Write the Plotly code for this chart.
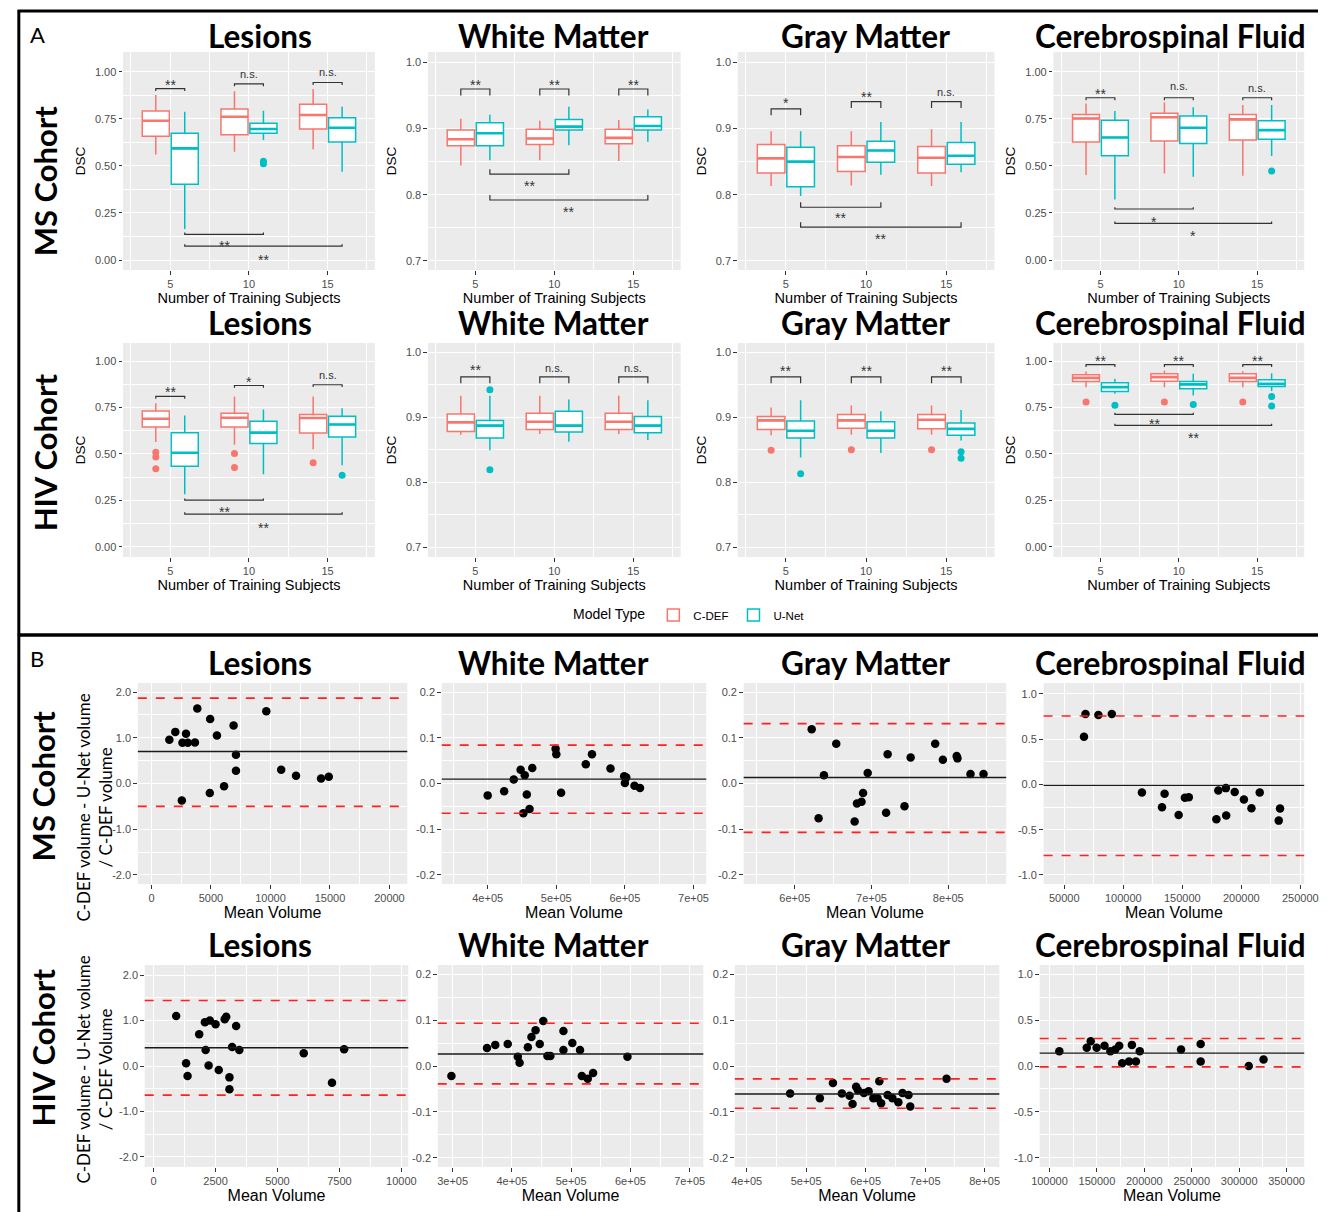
import plotly.graph_objects as go

W, H = 1332, 1212

# ---------------- labels ----------------
GROUPS = [5, 10, 15]
MODELS = ["C-DEF", "U-Net"]
STRUCTURES = ["Lesions", "White Matter", "Gray Matter", "Cerebrospinal Fluid"]
COHORTS = ["MS Cohort", "HIV Cohort"]
X_TITLE_A = "Number of Training Subjects"
Y_TITLE_A = "DSC"
X_TITLE_B = "Mean Volume"
Y_TITLE_B = ["C-DEF volume - U-Net volume<br>/ C-DEF volume",
             "C-DEF volume - U-Net volume<br>/ C-DEF Volume"]
LEGEND_TITLE = "Model Type"
PANEL_LETTERS = ["A", "B"]

DSC_TICKS_FULL = [0.0, 0.25, 0.5, 0.75, 1.0]
DSC_LABELS_FULL = ["0.00", "0.25", "0.50", "0.75", "1.00"]
DSC_TICKS_TISSUE = [0.7, 0.8, 0.9, 1.0]
DSC_LABELS_TISSUE = ["0.7", "0.8", "0.9", "1.0"]

# ---------------- box statistics: [lowerfence, q1, median, q3, upperfence] for 5, 10, 15 ----------------
MS_LES_CDEF = [[0.561, 0.658, 0.740, 0.791, 0.876], [0.575, 0.665, 0.761, 0.802, 0.897], [0.588, 0.696, 0.770, 0.827, 0.908]]
MS_LES_UNET = [[0.165, 0.402, 0.593, 0.673, 0.788], [0.637, 0.673, 0.696, 0.726, 0.793], [0.469, 0.627, 0.703, 0.756, 0.814]]
MS_WM_CDEF = [[0.844, 0.874, 0.884, 0.898, 0.915], [0.852, 0.876, 0.885, 0.899, 0.912], [0.851, 0.877, 0.886, 0.899, 0.913]]
MS_WM_UNET = [[0.852, 0.874, 0.893, 0.909, 0.921], [0.875, 0.898, 0.903, 0.914, 0.933], [0.880, 0.898, 0.904, 0.918, 0.929]]
MS_GM_CDEF = [[0.813, 0.833, 0.855, 0.876, 0.896], [0.814, 0.835, 0.857, 0.874, 0.896], [0.813, 0.833, 0.856, 0.873, 0.899]]
MS_GM_UNET = [[0.798, 0.812, 0.850, 0.872, 0.896], [0.830, 0.849, 0.867, 0.881, 0.910], [0.834, 0.846, 0.859, 0.879, 0.910]]
MS_CSF_CDEF = [[0.451, 0.627, 0.752, 0.773, 0.832], [0.460, 0.632, 0.758, 0.779, 0.837], [0.448, 0.637, 0.747, 0.773, 0.823]]
MS_CSF_UNET = [[0.322, 0.554, 0.651, 0.743, 0.791], [0.442, 0.619, 0.703, 0.765, 0.811], [0.552, 0.642, 0.690, 0.740, 0.823]]
HIV_LES_CDEF = [[0.565, 0.645, 0.690, 0.731, 0.774], [0.550, 0.645, 0.695, 0.720, 0.810], [0.525, 0.613, 0.694, 0.713, 0.810]]
HIV_LES_UNET = [[0.283, 0.434, 0.507, 0.615, 0.708], [0.391, 0.556, 0.615, 0.676, 0.740], [0.439, 0.591, 0.659, 0.703, 0.747]]
HIV_WM_CDEF = [[0.873, 0.878, 0.892, 0.905, 0.933], [0.874, 0.881, 0.893, 0.906, 0.933], [0.874, 0.881, 0.893, 0.906, 0.933]]
HIV_WM_UNET = [[0.849, 0.868, 0.887, 0.895, 0.933], [0.862, 0.877, 0.887, 0.909, 0.927], [0.865, 0.876, 0.887, 0.901, 0.926]]
HIV_GM_CDEF = [[0.872, 0.881, 0.895, 0.901, 0.915], [0.873, 0.883, 0.895, 0.904, 0.918], [0.873, 0.882, 0.896, 0.904, 0.918]]
HIV_GM_UNET = [[0.838, 0.868, 0.879, 0.894, 0.926], [0.845, 0.868, 0.879, 0.893, 0.909], [0.864, 0.872, 0.882, 0.891, 0.911]]
HIV_CSF_CDEF = [[0.860, 0.891, 0.910, 0.927, 0.944], [0.860, 0.892, 0.914, 0.932, 0.950], [0.860, 0.891, 0.910, 0.932, 0.946]]
HIV_CSF_UNET = [[0.824, 0.837, 0.860, 0.884, 0.905], [0.815, 0.851, 0.875, 0.891, 0.932], [0.839, 0.864, 0.878, 0.900, 0.935]]

# outliers per training size
MS_LES_CDEF_OUT = [[], [], []]
MS_LES_UNET_OUT = [[], [0.525, 0.512], []]
MS_WM_CDEF_OUT = [[], [], []]
MS_WM_UNET_OUT = [[], [], []]
MS_GM_CDEF_OUT = [[], [], []]
MS_GM_UNET_OUT = [[], [], []]
MS_CSF_CDEF_OUT = [[], [], []]
MS_CSF_UNET_OUT = [[], [], [0.473]]
HIV_LES_CDEF_OUT = [[0.509, 0.484, 0.421], [0.502, 0.427], [0.453]]
HIV_LES_UNET_OUT = [[], [], [0.385]]
HIV_WM_CDEF_OUT = [[], [], []]
HIV_WM_UNET_OUT = [[0.942, 0.819], [], []]
HIV_GM_CDEF_OUT = [[0.849], [0.850], [0.850]]
HIV_GM_UNET_OUT = [[0.813], [], [0.847, 0.837]]
HIV_CSF_CDEF_OUT = [[0.780], [0.780], [0.780]]
HIV_CSF_UNET_OUT = [[0.762], [0.767], [0.810, 0.758]]

# significance brackets: (model_a, size_a, model_b, size_b, bracket y, label, label y)
MS_LES_SIG = [("C-DEF", 5, "U-Net", 5, 0.910, "**", 0.943), ("C-DEF", 10, "U-Net", 10, 0.936, "n.s.", 0.990),
              ("C-DEF", 15, "U-Net", 15, 0.943, "n.s.", 1.000), ("U-Net", 5, "U-Net", 10, 0.136, "**", 0.092),
              ("U-Net", 5, "U-Net", 15, 0.074, "**", 0.018)]
MS_WM_SIG = [("C-DEF", 5, "U-Net", 5, 0.960, "**", 0.971), ("C-DEF", 10, "U-Net", 10, 0.960, "**", 0.971),
             ("C-DEF", 15, "U-Net", 15, 0.960, "**", 0.971), ("U-Net", 5, "U-Net", 10, 0.831, "**", 0.817),
             ("U-Net", 5, "U-Net", 15, 0.792, "**", 0.778)]
MS_GM_SIG = [("C-DEF", 5, "U-Net", 5, 0.930, "*", 0.943), ("C-DEF", 10, "U-Net", 10, 0.941, "**", 0.953),
             ("C-DEF", 15, "U-Net", 15, 0.941, "n.s.", 0.955), ("U-Net", 5, "U-Net", 10, 0.781, "**", 0.769),
             ("U-Net", 5, "U-Net", 15, 0.751, "**", 0.737)]
MS_CSF_SIG = [("C-DEF", 5, "U-Net", 5, 0.862, "**", 0.900), ("C-DEF", 10, "U-Net", 10, 0.862, "n.s.", 0.925),
              ("C-DEF", 15, "U-Net", 15, 0.862, "n.s.", 0.915), ("U-Net", 5, "U-Net", 10, 0.271, "*", 0.218),
              ("U-Net", 5, "U-Net", 15, 0.195, "*", 0.142)]
HIV_LES_SIG = [("C-DEF", 5, "U-Net", 5, 0.810, "**", 0.848), ("C-DEF", 10, "U-Net", 10, 0.869, "*", 0.905),
               ("C-DEF", 15, "U-Net", 15, 0.873, "n.s.", 0.923), ("U-Net", 5, "U-Net", 10, 0.251, "**", 0.203),
               ("U-Net", 5, "U-Net", 15, 0.176, "**", 0.116)]
HIV_WM_SIG = [("C-DEF", 5, "U-Net", 5, 0.962, "**", 0.977), ("C-DEF", 10, "U-Net", 10, 0.962, "n.s.", 0.975),
              ("C-DEF", 15, "U-Net", 15, 0.962, "n.s.", 0.975)]
HIV_GM_SIG = [("C-DEF", 5, "U-Net", 5, 0.962, "**", 0.975), ("C-DEF", 10, "U-Net", 10, 0.962, "**", 0.975),
              ("C-DEF", 15, "U-Net", 15, 0.962, "**", 0.975)]
HIV_CSF_SIG = [("C-DEF", 5, "U-Net", 5, 0.982, "**", 1.018), ("C-DEF", 10, "U-Net", 10, 0.982, "**", 1.018),
               ("C-DEF", 15, "U-Net", 15, 0.982, "**", 1.018), ("U-Net", 5, "U-Net", 10, 0.713, "**", 0.676),
               ("U-Net", 5, "U-Net", 15, 0.654, "**", 0.604)]

# ---------------- Bland-Altman data ----------------
MS_LES_X = [1500, 2000, 2600, 2900, 3050, 3650, 3850, 2550, 4930, 4900, 5500, 6100, 6900, 7100, 7100, 9650, 10900, 12150, 14250, 14900]
MS_LES_Y = [0.96, 1.13, 0.89, 1.09, 0.89, 0.90, 1.64, -0.37, 1.41, -0.21, 1.05, -0.06, 1.27, 0.63, 0.28, 1.58, 0.30, 0.17, 0.11, 0.15]
MS_LES_LINES = [0.70, 1.87, -0.50]  # mean, upper, lower limits of agreement

MS_WM_X = [400000, 424000, 438000, 448000, 454000, 457000, 452000, 461000, 465000, 499000, 500000, 507000, 543000, 552000, 579000, 599000, 600000, 602000, 614000, 622000]
MS_WM_Y = [-0.026, -0.017, 0.009, 0.030, 0.018, -0.024, -0.065, -0.056, 0.034, 0.076, 0.064, -0.020, 0.042, 0.064, 0.033, 0.016, 0.001, 0.013, -0.005, -0.010]
MS_WM_LINES = [0.0096, 0.084, -0.065]

MS_GM_X = [622000, 631000, 638000, 654000, 678000, 681000, 687000, 689000, 695000, 719000, 721000, 743000, 751000, 783000, 793000, 811000, 812000, 829000, 846000]
MS_GM_Y = [0.119, -0.076, 0.018, 0.087, -0.083, -0.044, -0.040, -0.021, 0.023, -0.064, 0.064, -0.050, 0.057, 0.087, 0.052, 0.060, 0.055, 0.021, 0.021]
MS_GM_LINES = [0.013, 0.131, -0.107]

MS_CSF_X = [66700, 68000, 78900, 90300, 115800, 132800, 135000, 146900, 152200, 155500, 178900, 180500, 186900, 187200, 194400, 202200, 208600, 215600, 231700, 232800]
MS_CSF_Y = [0.526, 0.778, 0.767, 0.778, -0.089, -0.252, -0.104, -0.337, -0.148, -0.141, -0.385, -0.067, -0.041, -0.344, -0.085, -0.167, -0.263, -0.089, -0.400, -0.267]
MS_CSF_LINES = [-0.011, 0.756, -0.785]

HIV_LES_X = [910, 1310, 1370, 1840, 2070, 2100, 2220, 2270, 2500, 2630, 2870, 2930, 3060, 3060, 3170, 3330, 3460, 6060, 7200, 7690]
HIV_LES_Y = [1.10, 0.06, -0.22, 0.70, 0.96, 0.35, 0.01, 1.00, 0.92, -0.09, 1.03, 1.08, -0.25, -0.51, 0.42, 0.88, 0.35, 0.28, -0.37, 0.37]
HIV_LES_LINES = [0.40, 1.44, -0.64]

HIV_WM_X = [298000, 358000, 372000, 393000, 410000, 413000, 427000, 433000, 440000, 447000, 453000, 460000, 465000, 487000, 487000, 502000, 515000, 518000, 528000, 537000, 595000]
HIV_WM_Y = [-0.022, 0.039, 0.046, 0.048, 0.020, 0.007, 0.041, 0.063, 0.078, 0.048, 0.098, 0.022, 0.022, 0.076, 0.035, 0.050, 0.035, -0.022, -0.028, -0.015, 0.020]
HIV_WM_LINES = [0.026, 0.093, -0.039]

HIV_GM_X = [473000, 523000, 545000, 560000, 573000, 578000, 584000, 587000, 597000, 605000, 613000, 620000, 623000, 626000, 637000, 645000, 655000, 662000, 672000, 675000, 736000]
HIV_GM_Y = [-0.060, -0.070, -0.037, -0.060, -0.065, -0.083, -0.045, -0.053, -0.059, -0.055, -0.070, -0.070, -0.033, -0.081, -0.063, -0.070, -0.079, -0.059, -0.063, -0.088, -0.028]
HIV_GM_LINES = [-0.061, -0.028, -0.092]

HIV_CSF_X = [110400, 139300, 143500, 149700, 158000, 164200, 169400, 173500, 176600, 183900, 186900, 191100, 195200, 238700, 259400, 259400, 310100, 325700]
HIV_CSF_Y = [0.16, 0.20, 0.27, 0.20, 0.22, 0.16, 0.18, 0.22, 0.03, 0.05, 0.23, 0.05, 0.16, 0.18, 0.24, 0.05, 0.00, 0.07]
HIV_CSF_LINES = [0.14, 0.30, -0.01]

# tick values / labels for the Bland-Altman panels
MS_LES_XT = [0, 5000, 10000, 15000, 20000]
MS_WM_XT = [400000, 500000, 600000, 700000]
MS_GM_XT = [600000, 700000, 800000]
MS_CSF_XT = [50000, 100000, 150000, 200000, 250000]
HIV_LES_XT = [0, 2500, 5000, 7500, 10000]
HIV_WM_XT = [300000, 400000, 500000, 600000, 700000]
HIV_GM_XT = [400000, 500000, 600000, 700000, 800000]
HIV_CSF_XT = [100000, 150000, 200000, 250000, 300000, 350000]
MS_LES_XL = ["0", "5000", "10000", "15000", "20000"]
MS_WM_XL = ["4e+05", "5e+05", "6e+05", "7e+05"]
MS_GM_XL = ["6e+05", "7e+05", "8e+05"]
MS_CSF_XL = ["50000", "100000", "150000", "200000", "250000"]
HIV_LES_XL = ["0", "2500", "5000", "7500", "10000"]
HIV_WM_XL = ["3e+05", "4e+05", "5e+05", "6e+05", "7e+05"]
HIV_GM_XL = ["4e+05", "5e+05", "6e+05", "7e+05", "8e+05"]
HIV_CSF_XL = ["100000", "150000", "200000", "250000", "300000", "350000"]
LES_YT = [-2.0, -1.0, 0.0, 1.0, 2.0]
LES_YL = ["-2.0", "-1.0", "0.0", "1.0", "2.0"]
TIS_YT = [-0.2, -0.1, 0.0, 0.1, 0.2]
TIS_YL = ["-0.2", "-0.1", "0.0", "0.1", "0.2"]
CSF_YT = [-1.0, -0.5, 0.0, 0.5, 1.0]
CSF_YL = ["-1.0", "-0.5", "0.0", "0.5", "1.0"]

# ---------------- style / layout ----------------
COLORS = {"C-DEF": "#F8766D", "U-Net": "#00BFC4"}
DODGE = {"C-DEF": -0.92, "U-Net": 0.92}
BOX_W = 1.72
PANEL_BG = "#EBEBEB"
SANS = "Liberation Sans, Arial, sans-serif"
HEAD = "Lato, Open Sans, sans-serif"
TICKFONT = dict(family=SANS, size=11, color="#4D4D4D")

BOX_ROWS_PX = [(52, 270), (343, 557)]
BOX_COLS_PX = [(117, 373), (427, 684), (742, 1003), (1063, 1318)]
YR_FULL = [[-0.053, 1.105], [-0.055, 1.098]]
YR_TISSUE = [[0.686, 1.016], [0.685, 1.014]]

SC_ROWS_PX = [(683, 884), (965, 1167)]
SC_COLS_PX = [[(132, 406), (441, 710), (748, 1015), (1053, 1318)],
              [(139, 407), (437, 707), (739, 1008), (1049, 1318)]]
SC_XRANGES = [[[-1150, 21500], [333000, 718600], [533300, 875600], [32500, 253300]],
              [[-360, 10280], [275000, 723000], [380000, 824800], [89650, 368600]]]

TITLE_X_PX = [256, 555, 872, 1182]
TITLE_Y_PX = [36, 323, 663, 945]

BOX_DATA = [
    [(MS_LES_CDEF, MS_LES_UNET, MS_LES_CDEF_OUT, MS_LES_UNET_OUT, MS_LES_SIG, "full"),
     (MS_WM_CDEF, MS_WM_UNET, MS_WM_CDEF_OUT, MS_WM_UNET_OUT, MS_WM_SIG, "tissue"),
     (MS_GM_CDEF, MS_GM_UNET, MS_GM_CDEF_OUT, MS_GM_UNET_OUT, MS_GM_SIG, "tissue"),
     (MS_CSF_CDEF, MS_CSF_UNET, MS_CSF_CDEF_OUT, MS_CSF_UNET_OUT, MS_CSF_SIG, "full")],
    [(HIV_LES_CDEF, HIV_LES_UNET, HIV_LES_CDEF_OUT, HIV_LES_UNET_OUT, HIV_LES_SIG, "full"),
     (HIV_WM_CDEF, HIV_WM_UNET, HIV_WM_CDEF_OUT, HIV_WM_UNET_OUT, HIV_WM_SIG, "tissue"),
     (HIV_GM_CDEF, HIV_GM_UNET, HIV_GM_CDEF_OUT, HIV_GM_UNET_OUT, HIV_GM_SIG, "tissue"),
     (HIV_CSF_CDEF, HIV_CSF_UNET, HIV_CSF_CDEF_OUT, HIV_CSF_UNET_OUT, HIV_CSF_SIG, "full")],
]

SC_DATA = [
    [(MS_LES_X, MS_LES_Y, MS_LES_LINES, MS_LES_XT, MS_LES_XL, LES_YT, LES_YL, [-2.2, 2.2], 0.5),
     (MS_WM_X, MS_WM_Y, MS_WM_LINES, MS_WM_XT, MS_WM_XL, TIS_YT, TIS_YL, [-0.22, 0.22], 0.05),
     (MS_GM_X, MS_GM_Y, MS_GM_LINES, MS_GM_XT, MS_GM_XL, TIS_YT, TIS_YL, [-0.22, 0.22], 0.05),
     (MS_CSF_X, MS_CSF_Y, MS_CSF_LINES, MS_CSF_XT, MS_CSF_XL, CSF_YT, CSF_YL, [-1.1, 1.12], 0.25)],
    [(HIV_LES_X, HIV_LES_Y, HIV_LES_LINES, HIV_LES_XT, HIV_LES_XL, LES_YT, LES_YL, [-2.22, 2.22], 0.5),
     (HIV_WM_X, HIV_WM_Y, HIV_WM_LINES, HIV_WM_XT, HIV_WM_XL, TIS_YT, TIS_YL, [-0.22, 0.22], 0.05),
     (HIV_GM_X, HIV_GM_Y, HIV_GM_LINES, HIV_GM_XT, HIV_GM_XL, TIS_YT, TIS_YL, [-0.22, 0.22], 0.05),
     (HIV_CSF_X, HIV_CSF_Y, HIV_CSF_LINES, HIV_CSF_XT, HIV_CSF_XL, CSF_YT, CSF_YL, [-1.1, 1.1], 0.25)],
]


def dom_x(a, b):
    return [a / W, b / W]


def dom_y(a, b):
    return [1 - b / H, 1 - a / H]


def names(k):
    if k == 1:
        return "xaxis", "yaxis", "x", "y"
    return f"xaxis{k}", f"yaxis{k}", f"x{k}", f"y{k}"


def base_axis():
    return dict(showgrid=True, gridcolor="white", gridwidth=1.1, zeroline=False, showline=False,
                ticks="outside", ticklen=3.5, tickwidth=1, tickcolor="#333333", tickfont=TICKFONT)


fig = go.Figure()
layout_axes = {}
annotations = []
shapes = []


def add_text(xp, yp, text, size, family=SANS, angle=0, color="#000000", xanchor="center"):
    annotations.append(dict(xref="paper", yref="paper", x=xp / W, y=1 - yp / H, text=text,
                            showarrow=False, textangle=angle, xanchor=xanchor, yanchor="middle",
                            font=dict(family=family, size=size, color=color)))


k = 0
# ---------------- Panel A: box plots ----------------
for r in range(2):
    for c in range(4):
        k += 1
        xa, ya, xr, yr = names(k)
        cdef, unet, cdef_out, unet_out, sig, kind = BOX_DATA[r][c]
        full = kind == "full"
        yrange = YR_FULL[r] if full else YR_TISSUE[r]
        xax = base_axis()
        xax.update(domain=dom_x(*BOX_COLS_PX[c]), anchor=yr, range=[2.0, 18.0],
                   tickmode="array", tickvals=GROUPS, ticktext=[str(g) for g in GROUPS],
                   minor=dict(showgrid=True, gridcolor="white", gridwidth=0.5, dtick=2.5, tick0=0),
                   title=dict(text=X_TITLE_A, font=dict(family=SANS, size=14.5, color="#000000"), standoff=3))
        yax = base_axis()
        yax.update(domain=dom_y(*BOX_ROWS_PX[r]), anchor=xr, range=yrange, tickmode="array",
                   tickvals=DSC_TICKS_FULL if full else DSC_TICKS_TISSUE,
                   ticktext=DSC_LABELS_FULL if full else DSC_LABELS_TISSUE,
                   minor=dict(showgrid=True, gridcolor="white", gridwidth=0.5,
                              dtick=0.125 if full else 0.05, tick0=0 if full else 0.7),
                   title=dict(text=Y_TITLE_A, font=dict(family=SANS, size=13.5, color="#000000"), standoff=6))
        layout_axes[xa] = xax
        layout_axes[ya] = yax

        for m, stats, outs in (("C-DEF", cdef, cdef_out), ("U-Net", unet, unet_out)):
            pos = [g + DODGE[m] for g in GROUPS]
            fig.add_trace(go.Box(
                x=pos, lowerfence=[s[0] for s in stats], q1=[s[1] for s in stats],
                median=[s[2] for s in stats], q3=[s[3] for s in stats], upperfence=[s[4] for s in stats],
                orientation="v", width=BOX_W, whiskerwidth=0, fillcolor="white",
                line=dict(color=COLORS[m], width=1.5), name=m, legendgroup=m,
                showlegend=(k == 1), boxpoints=False, xaxis=xr, yaxis=yr, hoverinfo="skip"))
            # thicker median segments (ggplot style)
            mx, my = [], []
            for p, s in zip(pos, stats):
                mx += [p - BOX_W / 2, p + BOX_W / 2, None]
                my += [s[2], s[2], None]
            fig.add_trace(go.Scatter(x=mx, y=my, mode="lines", line=dict(color=COLORS[m], width=2.6),
                                     showlegend=False, xaxis=xr, yaxis=yr, hoverinfo="skip"))
            ox, oy = [], []
            for p, vals in zip(pos, outs):
                ox += [p] * len(vals)
                oy += vals
            if ox:
                fig.add_trace(go.Scatter(x=ox, y=oy, mode="markers",
                                         marker=dict(color=COLORS[m], size=7),
                                         showlegend=False, xaxis=xr, yaxis=yr, hoverinfo="skip"))

        span = yrange[1] - yrange[0]
        for ma, sa, mb, sb, yl, lab, yt in sig:
            x0 = sa + DODGE[ma]
            x1 = sb + DODGE[mb]
            tip = (0.011 if full else 0.03) * span
            d = tip if sa == sb else -0.75 * tip
            shapes.append(dict(type="path", xref=xr, yref=yr,
                               path=f"M {x0},{yl - d} L {x0},{yl} L {x1},{yl} L {x1},{yl - d}",
                               line=dict(color="#333333", width=1.2)))
            is_star = "*" in lab
            annotations.append(dict(xref=xr, yref=yr, x=(x0 + x1) / 2, y=yt, text=lab, showarrow=False,
                                    yshift=-3 if is_star else 0,
                                    font=dict(family=SANS, size=14 if is_star else 11, color="#333333")))

# ---------------- Panel B: Bland-Altman ----------------
for r in range(2):
    for c in range(4):
        k += 1
        xa, ya, xr, yr = names(k)
        xs, ys, lines, xt, xl, yt, yl, yrange, yminor = SC_DATA[r][c]
        step = xt[1] - xt[0]
        xax = base_axis()
        xax.update(domain=dom_x(*SC_COLS_PX[r][c]), anchor=yr, range=SC_XRANGES[r][c],
                   tickmode="array", tickvals=xt, ticktext=xl,
                   minor=dict(showgrid=True, gridcolor="white", gridwidth=0.5, dtick=step / 2, tick0=xt[0]),
                   title=dict(text=X_TITLE_B, font=dict(family=SANS, size=16, color="#000000"), standoff=2))
        yax = base_axis()
        yax.update(domain=dom_y(*SC_ROWS_PX[r]), anchor=xr, range=yrange, tickmode="array",
                   tickvals=yt, ticktext=yl,
                   minor=dict(showgrid=True, gridcolor="white", gridwidth=0.5, dtick=yminor, tick0=0))
        layout_axes[xa] = xax
        layout_axes[ya] = yax

        mean, upper, lower = lines
        shapes.append(dict(type="line", xref=f"{xr} domain", yref=yr, x0=0, x1=1, y0=mean, y1=mean,
                           line=dict(color="#1A1A1A", width=1.4), layer="above"))
        for v in (upper, lower):
            shapes.append(dict(type="line", xref=f"{xr} domain", yref=yr, x0=0, x1=1, y0=v, y1=v,
                               line=dict(color="#FF2020", width=1.6, dash="dash"), layer="above"))
        fig.add_trace(go.Scatter(x=xs, y=ys, mode="markers", marker=dict(color="black", size=8.5),
                                 showlegend=False, xaxis=xr, yaxis=yr, hoverinfo="skip"))

# ---------------- titles and labels ----------------
for i, ty in enumerate(TITLE_Y_PX):
    for c, s in enumerate(STRUCTURES):
        add_text(TITLE_X_PX[c], ty, f"<b>{s}</b>", 31.5, family=HEAD)

add_text(38, 181, f"<b>{COHORTS[0]}</b>", 31, family=HEAD, angle=-90)
add_text(38, 452, f"<b>{COHORTS[1]}</b>", 31, family=HEAD, angle=-90)
add_text(36, 786, f"<b>{COHORTS[0]}</b>", 31, family=HEAD, angle=-90)
add_text(36, 1047, f"<b>{COHORTS[1]}</b>", 31, family=HEAD, angle=-90)
add_text(87, 808, Y_TITLE_B[0], 17, family=HEAD, angle=-90)
add_text(87, 1070, Y_TITLE_B[1], 17, family=HEAD, angle=-90)
add_text(30, 35, PANEL_LETTERS[0], 22, family=HEAD)
add_text(29, 658, PANEL_LETTERS[1], 22, family=HEAD)

# frame lines
shapes.append(dict(type="line", xref="paper", yref="paper", x0=11 / W, x1=11 / W, y0=1 - 10 / H, y1=0,
                   line=dict(color="black", width=3)))
shapes.append(dict(type="line", xref="paper", yref="paper", x0=10 / W, x1=1, y0=1 - 11 / H, y1=1 - 11 / H,
                   line=dict(color="black", width=3)))
shapes.append(dict(type="line", xref="paper", yref="paper", x0=10 / W, x1=1, y0=1 - 635 / H, y1=1 - 635 / H,
                   line=dict(color="black", width=3.5)))

fig.update_layout(
    width=W, height=H, autosize=False,
    margin=dict(l=0, r=0, t=0, b=0),
    paper_bgcolor="white", plot_bgcolor=PANEL_BG,
    boxmode="overlay", hovermode=False,
    showlegend=True,
    legend=dict(orientation="h", x=0.521, xanchor="center", y=1 - 615 / H, yanchor="middle",
                title=dict(text=LEGEND_TITLE, side="left", font=dict(family=SANS, size=14, color="#000000")),
                font=dict(family=SANS, size=11.5, color="#000000"), bgcolor="rgba(0,0,0,0)",
                itemwidth=30, tracegroupgap=0),
    annotations=annotations, shapes=shapes,
    **layout_axes,
)

fig.write_html("out.html", config={"displayModeBar": False},
               post_script="document.body.style.margin='0px';document.body.style.overflow='hidden';")
